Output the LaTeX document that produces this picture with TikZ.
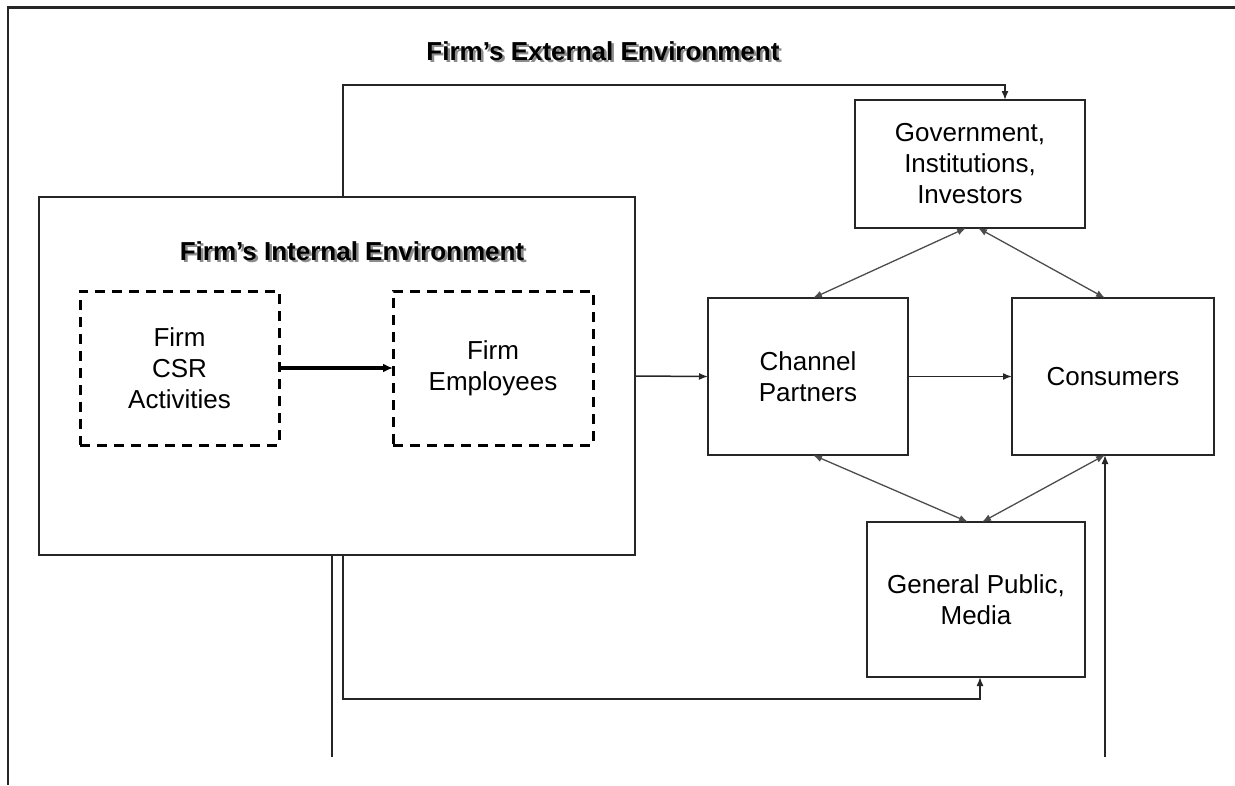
\documentclass[tikz,border=0pt]{standalone}
\usepackage{fontspec}
\setmainfont{Liberation Sans}
\usetikzlibrary{arrows.meta,calc}
\newcommand{\shtext}[1]{\makebox[0pt][l]{\hspace{2.5pt}\raisebox{-2.5pt}{\color{black!45}#1}}#1}
\begin{document}
\begin{tikzpicture}[x=1pt,y=-1pt,
  box/.style={draw=black!85,line width=1.8pt,inner sep=0pt,outer sep=0pt,align=center,
    font=\fontsize{26}{31}\selectfont},
  dbox/.style={box,draw=black,line width=3pt,dash pattern=on 10pt off 7pt},
  ttl/.style={inner sep=0pt,font=\bfseries\fontsize{26}{30}\selectfont},
  arr/.style={draw=black!85,line width=1.5pt,-{Latex[length=9pt,width=7pt]}},
  biarr/.style={draw=black!70,line width=1.3pt,{Latex[length=9pt,width=7pt]}-{Latex[length=9pt,width=7pt]}},
  thickarr/.style={draw=black,line width=3.5pt,-{Latex[length=10pt,width=9pt]}},
  plain/.style={draw=black!85,line width=1.5pt}]
\useasboundingbox (0,0) rectangle (1235,785);
% outer frame (top and left)
\coordinate (fr1) at (8,785);
\coordinate (fr2) at (8,7.5);
\coordinate (fr3) at (1235,7.5);
\draw[draw=black!85,line width=2.5pt] (fr1) -- (fr2) -- (fr3);
% titles
\node[ttl] (ext) at (603,52) {\shtext{Firm's External Environment}};
% internal box
\node[box,minimum width=596pt,minimum height=358pt] (int) at (337,376) {};
\node[ttl] (intt) at (352,252) {\shtext{Firm's Internal Environment}};
\node[dbox,minimum width=199pt,minimum height=154pt] (csr) at (179.5,368) {Firm\\CSR\\Activities};
\node[dbox,minimum width=200pt,minimum height=154pt] (emp) at (493,368) {Firm\\Employees};
% external boxes
\node[box,minimum width=230pt,minimum height=128pt] (gov) at (970,164) {Government,\\Institutions,\\Investors};
\node[box,minimum width=200pt,minimum height=157pt] (cp) at (808,376.5) {Channel\\Partners};
\node[box,minimum width=202pt,minimum height=157pt] (cons) at (1113,376.5) {Consumers};
\node[box,minimum width=218pt,minimum height=155pt] (gp) at (976,599.5) {General Public,\\Media};
% connectors
\draw[thickarr] (csr.east) -- (emp.west);
\draw[arr] (int.east) -- (cp.west);
\draw[arr] (cp.east) -- (cons.west);
\draw[arr] ([xshift=6pt]int.north) -- ++(0,-112) -| ([xshift=35pt]gov.north);
\draw[arr] ([xshift=6pt]int.south) -- ++(0,144) -| ([xshift=4pt]gp.south);
\coordinate (endA) at (332,757);
\draw[plain] ([xshift=-5pt]int.south) -- (endA);
\coordinate (endB) at (1105,757);
\draw[arr] (endB) -- (endB |- cons.south);
\draw[biarr] ([xshift=-4pt]gov.south) -- ([xshift=5pt]cp.north);
\draw[biarr] ([xshift=8pt]gov.south) -- ([xshift=-8pt]cons.north);
\draw[biarr] ([xshift=5pt]cp.south) -- ([xshift=-8pt]gp.north);
\draw[biarr] ([xshift=-8pt]cons.south) -- ([xshift=6pt]gp.north);
\end{tikzpicture}
\end{document}
